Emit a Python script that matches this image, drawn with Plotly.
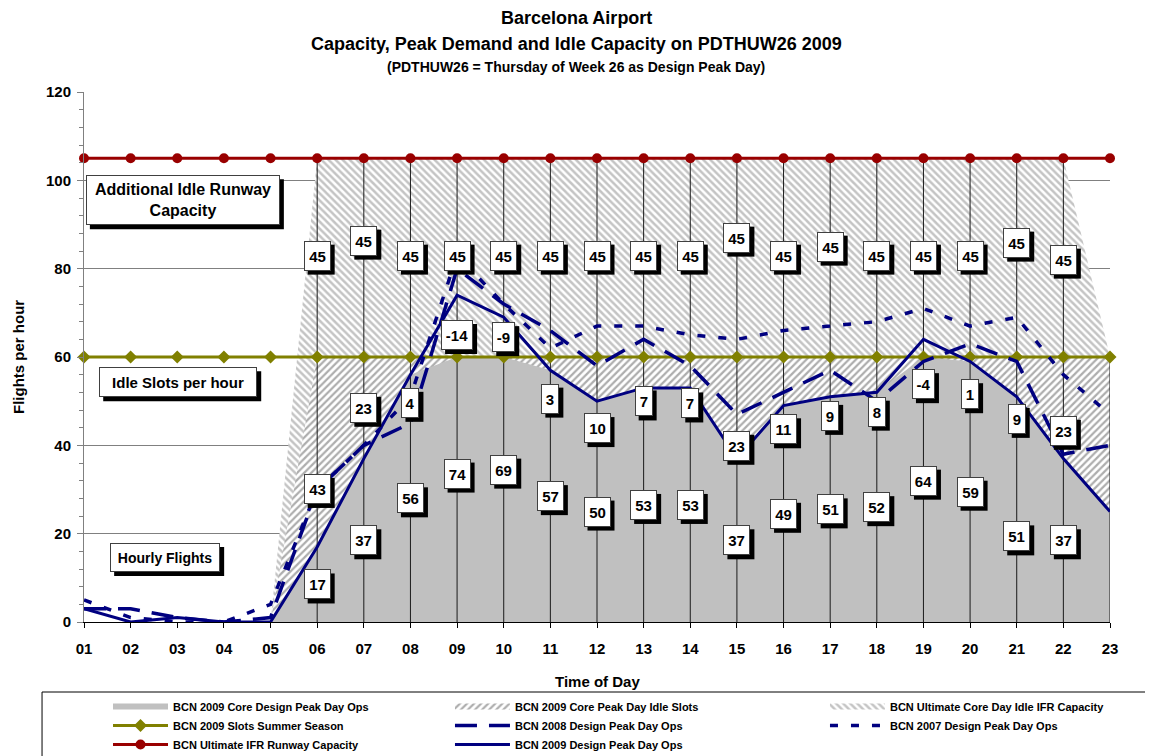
import plotly.graph_objects as go

# ---------------- data ----------------
hours = ["01", "02", "03", "04", "05", "06", "07", "08", "09", "10", "11", "12",
         "13", "14", "15", "16", "17", "18", "19", "20", "21", "22", "23"]

ops_2009 = [3, 0, 1, 0, 0, 17, 37, 56, 74, 69, 57, 50, 53, 53, 37, 49, 51, 52, 64, 59, 51, 37, 25]
ops_2008 = [3, 3, 1, 0, 1, 30, 40, 45, 80, 72, 66, 58, 64, 58, 47, 52, 57, 50, 59, 63, 59, 38, 40]
ops_2007 = [5, 1, 0, 0, 4, 30, 40, 51, 83, 72, 62, 67, 67, 65, 64, 66, 67, 68, 71, 67, 69, 56, 47]
slots_2009 = [60, 60, 60, 60, 60, 60, 60, 60, 60, 60, 60, 60, 60, 60, 60, 60, 60, 60, 60, 60, 60, 60, 60]
runway_cap = [105, 105, 105, 105, 105, 105, 105, 105, 105, 105, 105, 105, 105, 105, 105, 105, 105, 105,
              105, 105, 105, 105, 105]

core_ops = [0, 0, 0, 0, 0, 17, 37, 56, 74, 69, 57, 50, 53, 53, 37, 49, 51, 52, 64, 59, 51, 37, 25]
idle_slots = [0, 0, 0, 0, 0, 43, 23, 4, -14, -9, 3, 10, 7, 7, 23, 11, 9, 8, -4, 1, 9, 23, 35]
ultimate_idle = [0, 0, 0, 0, 0, 45, 45, 45, 45, 45, 45, 45, 45, 45, 45, 45, 45, 45, 45, 45, 45, 45, 0]

# hours that carry data labels (06 .. 22)
label_hours = ["06", "07", "08", "09", "10", "11", "12", "13", "14", "15", "16", "17", "18",
               "19", "20", "21", "22"]

# manual label drags (pixels, + = up), as in the original workbook
top_nudge = [2, 17, 2, 2, 2, 2, 2, 2, 2, 20, 2, 11, 2, 2, 2, 15, -2]
mid_nudge = [-37, 0, -37, -9, 0, -35, -49, -29, -31, -38, -48, -39, -37, -36, -35, -42, -23]
bot_nudge = [0, 0, 0, -15, 0, 0, 0, 0, 0, 0, 0, 0, 0, 0, 0, -27, 0]

# ---------------- derived ----------------
x = list(range(1, len(hours) + 1))
cum_slots = [c + i for c, i in zip(core_ops, idle_slots)]
cum_total = [s + u for s, u in zip(cum_slots, ultimate_idle)]
gray_top = [min(c, s) for c, s in zip(core_ops, cum_slots)]

FONT = "Liberation Sans, Arial, sans-serif"
NAVY = "#000080"

fig = go.Figure()

# stacked area look (drawn top-down so each lower layer covers the one above)
fig.add_trace(go.Scatter(
    x=x, y=cum_total, mode="none", fill="tozeroy",
    fillcolor="white",
    fillpattern=dict(shape="\\", fgcolor="#8a8a8a", bgcolor="white", size=5, solidity=0.5),
    name="BCN Ultimate Core Day Idle IFR Capacity", legend="legend3", legendrank=1,
    hoverinfo="skip"))
fig.add_trace(go.Scatter(
    x=x, y=cum_slots, mode="none", fill="tozeroy",
    fillcolor="white",
    fillpattern=dict(shape="/", fgcolor="#5c5c5c", bgcolor="white", size=5, solidity=0.45),
    name="BCN 2009 Core Peak Day Idle Slots", legend="legend2", legendrank=1, hoverinfo="skip"))
fig.add_trace(go.Scatter(
    x=x, y=gray_top, mode="none", fill="tozeroy", fillcolor="#C0C0C0",
    name="BCN 2009 Core Design Peak Day Ops", legend="legend", legendrank=1, hoverinfo="skip"))

# drop lines of the area chart
dx, dy = [], []
for xi, t in zip(x, cum_total):
    if t > 0:
        dx += [xi, xi, None]
        dy += [0, t, None]
fig.add_trace(go.Scatter(x=dx, y=dy, mode="lines", line=dict(color="#1a1a1a", width=1),
                         showlegend=False, hoverinfo="skip"))

# lines
fig.add_trace(go.Scatter(
    x=x, y=slots_2009, mode="lines+markers", cliponaxis=False,
    line=dict(color="#808000", width=3),
    marker=dict(symbol="diamond", size=10, color="#808000"),
    name="BCN 2009 Slots Summer Season", legend="legend", legendrank=2))
fig.add_trace(go.Scatter(
    x=x, y=runway_cap, mode="lines+markers", cliponaxis=False,
    line=dict(color="#990000", width=3),
    marker=dict(symbol="circle", size=10, color="#990000"),
    name="BCN Ultimate IFR Runway Capacity", legend="legend", legendrank=3))
fig.add_trace(go.Scatter(
    x=x, y=ops_2008, mode="lines", cliponaxis=False,
    line=dict(color=NAVY, width=3.5, dash="22px,12px"),
    name="BCN 2008 Design Peak Day Ops", legend="legend2", legendrank=2))
fig.add_trace(go.Scatter(
    x=x, y=ops_2007, mode="lines", cliponaxis=False,
    line=dict(color=NAVY, width=3.5, dash="8px,13px"),
    name="BCN 2007 Design Peak Day Ops", legend="legend3", legendrank=2))
fig.add_trace(go.Scatter(
    x=x, y=ops_2009, mode="lines", cliponaxis=False,
    line=dict(color=NAVY, width=3),
    name="BCN 2009 Design Peak Day Ops", legend="legend2", legendrank=3))

annotations = []
shapes = []

PAD, BW, SH = 3, 1, 4   # box padding, border width, shadow offset (px)


def num_width(s, size):
    """Approximate rendered width of a bold number string."""
    return sum((0.333 if ch == "-" else 0.556) * size for ch in s)


def boxed(xv, yv, text, size, width, height, xref="x", yref="y", yshift=0):
    outer_w = width + 2 * (PAD + BW)
    outer_h = height + 2 * (PAD + BW)
    # drop shadow as a pixel-sized rectangle anchored on the label position
    shapes.append(dict(type="rect", xref=xref, yref=yref, layer="above",
                       xsizemode="pixel", ysizemode="pixel", xanchor=xv, yanchor=yv,
                       x0=-outer_w / 2 + SH, x1=outer_w / 2 + SH,
                       y0=-outer_h / 2 + yshift - SH, y1=outer_h / 2 + yshift - SH,
                       fillcolor="black", line=dict(width=0)))
    annotations.append(dict(x=xv, y=yv, xref=xref, yref=yref, showarrow=False,
                            xanchor="center", yanchor="middle", align="center",
                            width=width, height=height,
                            borderwidth=BW, borderpad=PAD, yshift=yshift,
                            text=text, font=dict(family=FONT, size=size, color="black"),
                            bgcolor="white", bordercolor="#404040"))


for k, h in enumerate(label_hours):
    i = hours.index(h)
    xi = x[i]
    top_c = cum_slots[i] + ultimate_idle[i] / 2
    mid_c = core_ops[i] + idle_slots[i] / 2
    bot_c = core_ops[i] / 2
    for val, yc, nudge in ((ultimate_idle[i], top_c, top_nudge[k]),
                           (idle_slots[i], mid_c, mid_nudge[k]),
                           (core_ops[i], bot_c, bot_nudge[k])):
        s = str(val)
        boxed(xi, yc, f"<b>{s}</b>", 15, round(num_width(s, 15)) + 2, 22, yshift=nudge)

boxed(3.12, 95.5, "<b>Additional Idle Runway<br>Capacity</b>", 16, 186, 42)
boxed(3.02, 54.3, "<b>Idle Slots per hour</b>", 15, 150, 22)
boxed(2.74, 14.6, "<b>Hourly Flights</b>", 14, 102, 21)


def ptext(text, xv, yv, size, angle=0):
    return dict(text=text, x=xv, y=yv, xref="paper", yref="paper", xanchor="center",
                yanchor="middle", textangle=angle, showarrow=False,
                font=dict(family=FONT, size=size, color="black"))


# titles (paper coords relative to the plot area 84..1110 x 92..622)
annotations += [
    ptext("<b>Barcelona Airport</b>", 0.48, 1.1396, 18),
    ptext("<b>Capacity, Peak Demand and Idle Capacity on PDTHUW26 2009</b>", 0.48, 1.0906, 18),
    ptext("<b>(PDTHUW26 = Thursday of Week 26 as Design Peak Day)</b>", 0.48, 1.0472, 14),
    ptext("<b>Time of Day</b>", 0.5, -0.1132, 15),
    ptext("<b>Flights per hour</b>", -0.0643, 0.5, 15, angle=-90),
]

# legend frame
shapes.append(dict(type="rect", xref="paper", yref="paper",
                   x0=-0.0409, x1=1.06, y0=-0.1321, y1=-0.27,
                   line=dict(color="black", width=1), fillcolor="rgba(0,0,0,0)"))

legend_common = dict(orientation="v", y=-0.132, yanchor="top", xanchor="left",
                     itemwidth=55, tracegroupgap=0,
                     font=dict(family=FONT, size=11, color="black", weight="bold"),
                     borderwidth=0, bgcolor="rgba(0,0,0,0)")

fig.update_layout(
    width=1145, height=748,
    margin=dict(l=76, r=43, t=84, b=134, autoexpand=False),
    paper_bgcolor="white", plot_bgcolor="white",
    font=dict(family=FONT, color="black"),
    showlegend=True,
    legend=dict(legend_common, x=0.0234),
    legend2=dict(legend_common, x=0.3567),
    legend3=dict(legend_common, x=0.7222),
    annotations=annotations,
    shapes=shapes,
    xaxis=dict(range=[1, 23], tickmode="array", tickvals=x, ticktext=hours, automargin=False,
               showgrid=False, zeroline=False, showline=True, linecolor="black", linewidth=1,
               ticks="outside", ticklen=5, tickcolor="black", ticklabelstandoff=8,
               tickfont=dict(family=FONT, size=15, color="black", weight="bold")),
    yaxis=dict(range=[0, 120], dtick=20, tick0=0, showgrid=True, gridcolor="#808080", gridwidth=1,
               automargin=False,
               zeroline=False, showline=True, linecolor="#808080", linewidth=1,
               ticks="outside", ticklen=6, tickcolor="#808080", ticklabelstandoff=3,
               minor=dict(dtick=4, ticks="outside", ticklen=4, tickcolor="#808080", showgrid=False),
               tickfont=dict(family=FONT, size=15, color="black", weight="bold")),
)

fig.write_html("out.html")
